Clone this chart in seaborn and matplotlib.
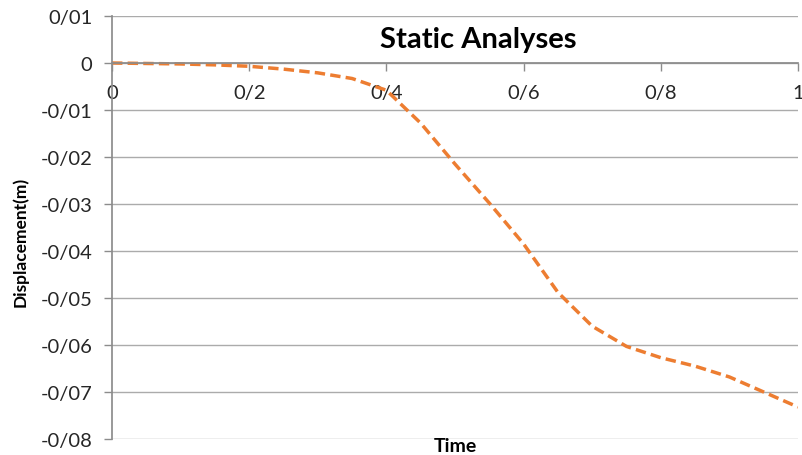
import matplotlib
matplotlib.use("Agg")
import matplotlib.pyplot as plt
import seaborn as sns
import pandas as pd
from matplotlib.ticker import FuncFormatter, MultipleLocator

time = [0.0, 0.05, 0.1, 0.15, 0.2, 0.25, 0.3, 0.35, 0.4, 0.45, 0.5,
        0.55, 0.6, 0.65, 0.7, 0.75, 0.8, 0.85, 0.9, 0.95, 1.0]
displacement = [0.0, -0.0001, -0.0002, -0.0004, -0.0007, -0.0013, -0.0021,
                -0.0033, -0.0058, -0.0128, -0.0215, -0.0298, -0.0385,
                -0.0488, -0.0560, -0.0603, -0.0627, -0.0645, -0.0668,
                -0.0700, -0.0732]

sns.set_theme(style="white")
plt.rcParams['font.family'] = ['Lato', 'DejaVu Sans']

df = pd.DataFrame({"Time": time, "Displacement": displacement})

fig = plt.figure(figsize=(8.03, 4.56), dpi=100)
ax = fig.add_axes([112/803, 1-440/456, (798-112)/803, (440-17)/456])

sns.lineplot(data=df, x="Time", y="Displacement", ax=ax, color="#ED7D31",
             linewidth=2.5, linestyle=(0, (3.0, 1.5)))

ax.set_xlim(0, 1)
ax.set_ylim(-0.08, 0.01)
ax.yaxis.set_major_locator(MultipleLocator(0.01))
ax.xaxis.set_major_locator(MultipleLocator(0.2))

def fmt(v, pos):
    v = round(v, 4)
    if abs(v) < 1e-9:
        return "0"
    s = ("%.2f" % v).rstrip("0").rstrip(".") if abs(v) < 1 else ("%g" % v)
    return s.replace(".", "/")

def fmtx(v, pos):
    v = round(v, 4)
    if abs(v) < 1e-9:
        return "0"
    return ("%g" % v).replace(".", "/")

ax.yaxis.set_major_formatter(FuncFormatter(fmt))
ax.xaxis.set_major_formatter(FuncFormatter(fmtx))

ax.grid(axis="y", color="#ABABAB", linewidth=1.0)
ax.grid(axis="x", visible=False)
for s in ["top", "right"]:
    ax.spines[s].set_visible(False)
ax.spines["left"].set_color("#8C8C8C")
ax.spines["bottom"].set_color("#8C8C8C")
ax.spines["bottom"].set_position(("data", 0))
ax.set_axisbelow(True)

ax.tick_params(axis="y", which="major", left=True, length=6, width=1,
               color="#8C8C8C", labelsize=14.5, labelcolor="#262626", pad=8)
ax.tick_params(axis="x", which="major", bottom=True, length=6, width=1,
               color="#8C8C8C", labelsize=14.5, labelcolor="#262626", pad=9,
               direction="out")

ax.set_xlabel("")
ax.set_ylabel("")
fig.text(455/803, 1-447/456, "Time", ha="center", va="center",
         fontsize=14, fontweight="bold", color="black")
fig.text(20/803, 1-242/456, "Displacement(m)", ha="center", va="center",
         rotation=90, fontsize=12.5, fontweight="bold", color="black")
fig.text(478/803, 1-40/456, "Static Analyses", ha="center", va="center",
         fontsize=21, fontweight="bold", color="black")

fig.savefig("out.png", dpi=100)
